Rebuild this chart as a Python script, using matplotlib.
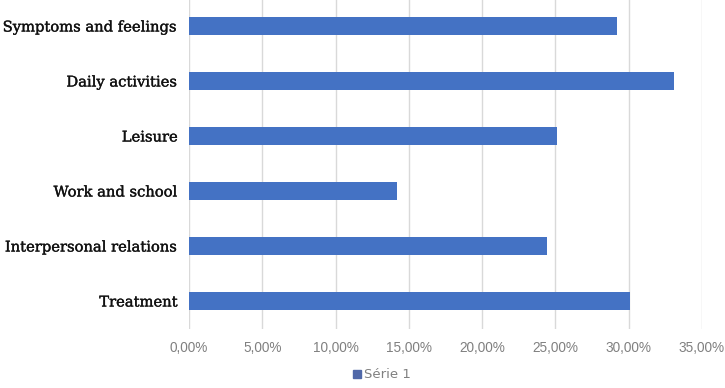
import numpy as np
import matplotlib.pyplot as plt
import matplotlib.patheffects as pe
from matplotlib.ticker import FuncFormatter
from matplotlib.patches import Patch

# data (top to bottom, as in the picture)
categories = ['Symptoms and feelings', 'Daily activities', 'Leisure',
              'Work and school', 'Interpersonal relations', 'Treatment']
values = [29.2, 33.1, 25.1, 14.2, 24.4, 30.1]
xticks = [0, 5, 10, 15, 20, 25, 30, 35]

bar_color = '#4472C4'

fig = plt.figure(figsize=(7.25, 3.88), dpi=100)
ax = fig.add_axes([189 / 725, 59.5 / 388, 513 / 725, 330 / 388])

y = np.arange(len(categories))
ax.barh(y, values, height=0.34, color=bar_color, zorder=3)

ax.set_xlim(0, 35)
ax.set_ylim(len(categories) - 0.5, -0.5)
ax.set_xticks(xticks)
ax.xaxis.set_major_formatter(FuncFormatter(lambda v, p: f'{v:.2f}%'.replace('.', ',')))
ax.set_yticks(y)
ax.set_yticklabels(categories, family=['DejaVu Serif'],
                   fontsize=10.6, color='#111111')
# slightly heavier than the regular face
for lab in ax.get_yticklabels():
    lab.set_path_effects([pe.withStroke(linewidth=0.25, foreground='#111111')])

ax.grid(axis='x', color='#d9d9d9', linewidth=1, zorder=0)
for s in ax.spines.values():
    s.set_visible(False)
ax.tick_params(axis='x', length=0, pad=9, labelsize=9.8, labelcolor='#808080')
ax.tick_params(axis='y', length=0, pad=8)
for lab in ax.get_xticklabels():
    lab.set_family(['Liberation Sans', 'DejaVu Sans'])

handle = Patch(color='#5068a8')
fig.legend([handle], ['Série 1'], loc='center', bbox_to_anchor=(382 / 725, 13 / 388),
           frameon=False, fontsize=9.5, labelcolor='#808080',
           handlelength=0.6, handleheight=0.6, handletextpad=0.3)

fig.savefig('out.png', dpi=100)
